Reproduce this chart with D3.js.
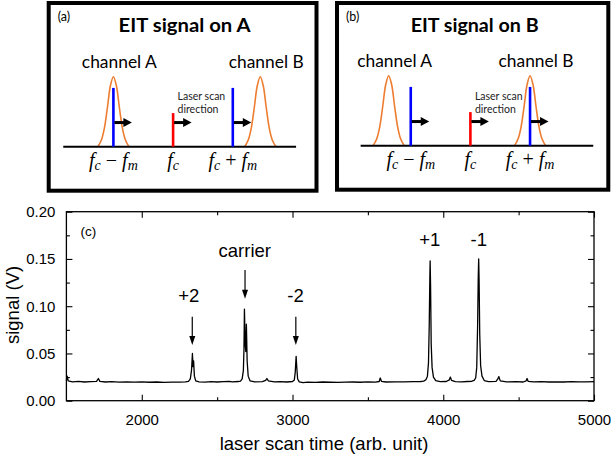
<!DOCTYPE html>
<html>
<head>
<script src="https://d3js.org/d3.v7.min.js"></script>
<style>
  body { margin: 0; background: #fff; }
  svg { display: block; }
</style>
</head>
<body>
<script>

// ---- (c) EIT trace ----
const scanTime = [
  1500, 1505, 1512, 1540, 1580, 1620, 1660, 1700, 1712, 1722, 1760, 1800, 1850, 1900, 1950,
  2000, 2050, 2100, 2150, 2200, 2250, 2290, 2310, 2322, 2330, 2336, 2340, 2344, 2349, 2358,
  2380, 2420, 2460, 2500, 2540, 2580, 2600, 2640, 2655, 2666, 2674, 2678, 2681, 2686, 2690, 2694,
  2699, 2706, 2718, 2750, 2800, 2822, 2830, 2840, 2880, 2920, 2960, 3000, 3012, 3018, 3024,
  3028, 3034, 3045, 3070, 3100, 3150, 3200, 3250, 3300, 3350, 3400, 3450, 3500, 3550, 3575,
  3582, 3590, 3620, 3680, 3740, 3800, 3850, 3870, 3885, 3895, 3902, 3907, 3911, 3913, 3916, 3920, 3926, 3935,
  3950, 3980, 4020, 4040, 4047, 4055, 4080, 4120, 4160, 4190, 4205, 4215, 4222, 4228, 4232, 4235,
  4238, 4242, 4248, 4257, 4272, 4300, 4350, 4362, 4369, 4378, 4420, 4480, 4530, 4550, 4556, 4563,
  4600, 4650, 4700, 4750, 4800, 4850, 4900, 4950, 5000
];
const signal = [
  0.021, 0.026, 0.021, 0.0200, 0.0205, 0.0198, 0.0202, 0.0205, 0.0235, 0.0205, 0.0198, 0.0201, 0.0196, 0.0200, 0.0197,
  0.0199, 0.0195, 0.0198, 0.0194, 0.0197, 0.0196, 0.0199, 0.0205, 0.023, 0.032, 0.050, 0.036, 0.042, 0.026, 0.021,
  0.0199, 0.0197, 0.0202, 0.0198, 0.0201, 0.0204, 0.0199, 0.0203, 0.0208, 0.023, 0.032, 0.055, 0.097, 0.060, 0.052, 0.081,
  0.042, 0.026, 0.021, 0.0199, 0.0201, 0.0215, 0.0235, 0.021, 0.0199, 0.0201, 0.0198, 0.0203, 0.022, 0.030, 0.047,
  0.036, 0.023, 0.0200, 0.0192, 0.0197, 0.0193, 0.0198, 0.0195, 0.0193, 0.0197, 0.0198, 0.0195, 0.0199, 0.0197, 0.0203,
  0.024, 0.0205, 0.0198, 0.0200, 0.0199, 0.0201, 0.0203, 0.0207, 0.0222, 0.026, 0.040, 0.080, 0.130, 0.148, 0.120, 0.060, 0.035, 0.025,
  0.0212, 0.0201, 0.0203, 0.022, 0.025, 0.0215, 0.0202, 0.0200, 0.0203, 0.0206, 0.0215, 0.024, 0.035, 0.080, 0.130, 0.150,
  0.125, 0.070, 0.037, 0.026, 0.0213, 0.0201, 0.0205, 0.023, 0.0255, 0.021, 0.0199, 0.0201, 0.0198, 0.021, 0.0235, 0.0205,
  0.0199, 0.0201, 0.0198, 0.0200, 0.0198, 0.0201, 0.0199, 0.0200, 0.0201
];

const xTicks = [2000, 3000, 4000, 5000];
const xMinorTicks = [2500, 3500, 4500];
const yTicks = [0, 0.05, 0.10, 0.15, 0.20];
const yMinorTicks = [0.025, 0.075, 0.125, 0.175];

// peak annotations, in data units
const peakLabels = ["+2", "carrier", "-2", "+1", "-1"];
const peakLabelX = [2312, 2683, 3020, 3910, 4236];
const peakLabelY = [0.1048, 0.1524, 0.1048, 0.1637, 0.1637];
const arrowX = [2335, 2685, 3022];
const arrowFrom = [0.0889, 0.1383, 0.0889];
const arrowTo = [0.059, 0.108, 0.059];

// ---- (a), (b) schematics: frequency in units of fm around fc ----
const markFreqs = [-1, 0, 1];           // fc - fm, fc, fc + fm
const markHeights = [0.84, 0.48, 0.84];
const gaussCentersA = [-1, 1.46];
const gaussCentersB = [-1.37, 1.0];
const gaussOffset = [-0.26, -0.2, -0.15, -0.1, -0.05, 0, 0.05, 0.1, 0.15, 0.2, 0.26];
const gaussShape  = [0, 0.1, 0.27, 0.56, 0.87, 1, 0.87, 0.56, 0.27, 0.1, 0];
const channelNames = ["channel A", "channel B"];

const width = 613;
const height = 458;

const svg = d3.select("body")
  .append("svg")
  .attr("width", width)
  .attr("height", height);

const sans = "'Liberation Sans', Arial, sans-serif";
const calibri = "Lato, 'Open Sans', sans-serif";
const mathFont = "'Liberation Serif', 'DejaVu Serif', serif";

// ---------------- schematic panels ----------------
const panels = [
  { tag: "(a)", title: "EIT signal on A", gauss: gaussCentersA,
    x: 48.7, y: 3, w: 267.8, h: 187.7, fc: 173.1, fm: 59.7, base: 146.7, titleW: 132 },
  { tag: "(b)", title: "EIT signal on B", gauss: gaussCentersB,
    x: 337, y: 3, w: 271.3, h: 186.7, fc: 470.4, fm: 59.65, base: 145.7, titleW: 128 }
];

panels.forEach(p => {
  const g = svg.append("g");
  const fx = d3.scaleLinear().domain([0, 1]).range([p.fc, p.fc + p.fm]);
  const fy = d3.scaleLinear().domain([0, 1]).range([p.base, p.base - 70]);

  g.append("rect")
    .attr("x", p.x).attr("y", p.y)
    .attr("width", p.w).attr("height", p.h)
    .attr("fill", "none").attr("stroke", "#000").attr("stroke-width", 4);

  g.append("text")
    .attr("x", p.x + 9).attr("y", 21)
    .attr("font-family", calibri).attr("font-size", 12.5)
    .text(p.tag);

  g.append("text")
    .attr("x", p.x + p.w / 2 + 2).attr("y", 32.3)
    .attr("text-anchor", "middle")
    .attr("font-family", calibri).attr("font-weight", "bold").attr("font-size", 18)
    .attr("textLength", p.titleW).attr("lengthAdjust", "spacingAndGlyphs")
    .text(p.title);

  // orange absorption profiles
  const gline = d3.line()
    .x(d => d[0]).y(d => d[1])
    .curve(d3.curveCatmullRom);
  p.gauss.forEach((c, i) => {
    const pts = gaussOffset.map((o, k) => [fx(c + o), fy(gaussShape[k])]);
    g.append("path")
      .attr("d", gline(pts))
      .attr("fill", "none").attr("stroke", "#ED7D31").attr("stroke-width", 1.6);
    g.append("text")
      .attr("x", fx(c + 0.1)).attr("y", p.base - 79)
      .attr("text-anchor", "middle")
      .attr("font-family", calibri).attr("font-size", 17)
      .attr("textLength", 75).attr("lengthAdjust", "spacingAndGlyphs")
      .text(channelNames[i]);
  });

  // frequency axis
  g.append("line")
    .attr("x1", fx(-1.84)).attr("x2", fx(2.06))
    .attr("y1", p.base).attr("y2", p.base)
    .attr("stroke", "#000").attr("stroke-width", 2);

  // laser lines with scan arrows
  markFreqs.forEach((f, i) => {
    const x0 = fx(f);
    g.append("line")
      .attr("x1", x0).attr("x2", x0)
      .attr("y1", p.base).attr("y2", fy(markHeights[i]))
      .attr("stroke", i === 1 ? "#FF0000" : "#0000FF")
      .attr("stroke-width", 2.6);
    const ay = fy(0.345);
    g.append("line")
      .attr("x1", x0 + 1).attr("x2", x0 + 11)
      .attr("y1", ay).attr("y2", ay)
      .attr("stroke", "#000").attr("stroke-width", 3);
    g.append("path")
      .attr("d", `M${x0 + 10},${ay - 4.5}L${x0 + 18.5},${ay}L${x0 + 10},${ay + 4.5}Z`)
      .attr("fill", "#000");
  });

  // scan direction note
  const note = g.append("text")
    .attr("font-family", calibri).attr("font-size", 10.5)
    .attr("fill", "#222");
  note.append("tspan").attr("x", fx(0) + 4.5).attr("y", 100).text("Laser scan");
  note.append("tspan").attr("x", fx(0) + 4.5).attr("y", 112.8).text("direction");

  // f labels
  const fLabels = [["c", " \u2212 ", "m"], ["c"], ["c", " + ", "m"]];
  markFreqs.forEach((f, i) => {
    const t = g.append("text")
      .attr("x", fx(f)).attr("y", p.base + 20)
      .attr("text-anchor", "middle")
      .attr("font-family", mathFont).attr("font-size", 20);
    const parts = fLabels[i];
    t.append("tspan").attr("font-style", "italic").text("f");
    t.append("tspan").attr("font-style", "italic").attr("font-size", 14).attr("dy", 3).text(parts[0]);
    if (parts.length > 1) {
      t.append("tspan").attr("dy", -3).text(parts[1]);
      t.append("tspan").attr("font-style", "italic").text("f");
      t.append("tspan").attr("font-style", "italic").attr("font-size", 14).attr("dy", 3).text(parts[2]);
    }
  });
});

// ---------------- (c) trace ----------------
const plot = { left: 66.4, right: 594, top: 211.7, bottom: 400.7 };

const x = d3.scaleLinear().domain([1500, 5000]).range([plot.left, plot.right]);
const y = d3.scaleLinear().domain([0, 0.2]).range([plot.bottom, plot.top]);

const addAxis = (axis, tx, ty, vals, size, fmt, pad) => {
  const g = svg.append("g")
    .attr("transform", `translate(${tx},${ty})`)
    .call(axis.tickValues(vals).tickSize(size).tickSizeOuter(0).tickPadding(pad).tickFormat(fmt));
  g.select(".domain").remove();
  g.selectAll("line").attr("stroke", "#000").attr("stroke-width", 1.1);
  g.selectAll("text").attr("font-family", sans).attr("font-size", 15).attr("fill", "#000");
  return g;
};

addAxis(d3.axisBottom(x), 0, plot.bottom, xTicks, -6, d3.format("d"), 13.5);
addAxis(d3.axisBottom(x), 0, plot.bottom, xMinorTicks, -3.5, () => "", 0);
addAxis(d3.axisTop(x), 0, plot.top, xTicks, -6, () => "", 0);
addAxis(d3.axisTop(x), 0, plot.top, xMinorTicks, -3.5, () => "", 0);
addAxis(d3.axisLeft(y), plot.left, 0, yTicks, -6, d3.format(".2f"), 11);
addAxis(d3.axisLeft(y), plot.left, 0, yMinorTicks, -3.5, () => "", 0);
addAxis(d3.axisRight(y), plot.right, 0, yTicks, -6, () => "", 0);
addAxis(d3.axisRight(y), plot.right, 0, yMinorTicks, -3.5, () => "", 0);

svg.append("rect")
  .attr("x", plot.left).attr("y", plot.top)
  .attr("width", plot.right - plot.left).attr("height", plot.bottom - plot.top)
  .attr("fill", "none").attr("stroke", "#000").attr("stroke-width", 1.3);

const trace = d3.line()
  .x((d, i) => x(scanTime[i]))
  .y(d => y(d));

svg.append("path")
  .attr("d", trace(signal))
  .attr("fill", "none")
  .attr("stroke", "#000")
  .attr("stroke-width", 1.3)
  .attr("stroke-linejoin", "round");

// peak labels
svg.selectAll(".peak-label")
  .data(peakLabels)
  .join("text")
  .attr("class", "peak-label")
  .attr("x", (d, i) => x(peakLabelX[i]))
  .attr("y", (d, i) => y(peakLabelY[i]))
  .attr("text-anchor", "middle")
  .attr("font-family", sans).attr("font-size", 18.5)
  .text(d => d);

arrowX.forEach((ax, i) => {
  const px = x(ax), y0 = y(arrowFrom[i]), y1 = y(arrowTo[i]);
  svg.append("line")
    .attr("x1", px).attr("x2", px)
    .attr("y1", y0).attr("y2", y1 - 8)
    .attr("stroke", "#000").attr("stroke-width", 1.2);
  svg.append("path")
    .attr("d", `M${px - 3},${y1 - 9}L${px},${y1}L${px + 3},${y1 - 9}Z`)
    .attr("fill", "#000");
});

svg.append("text")
  .attr("x", plot.left + 14).attr("y", 236)
  .attr("font-family", sans).attr("font-size", 13.5)
  .text("(c)");

// axis titles
svg.append("text")
  .attr("x", 324).attr("y", 450)
  .attr("text-anchor", "middle")
  .attr("font-family", sans).attr("font-size", 18.5)
  .text("laser scan time (arb. unit)");

svg.append("text")
  .attr("transform", "translate(19,305) rotate(-90)")
  .attr("text-anchor", "middle")
  .attr("font-family", sans).attr("font-size", 18.5)
  .text("signal (V)");

</script>
</body>
</html>
